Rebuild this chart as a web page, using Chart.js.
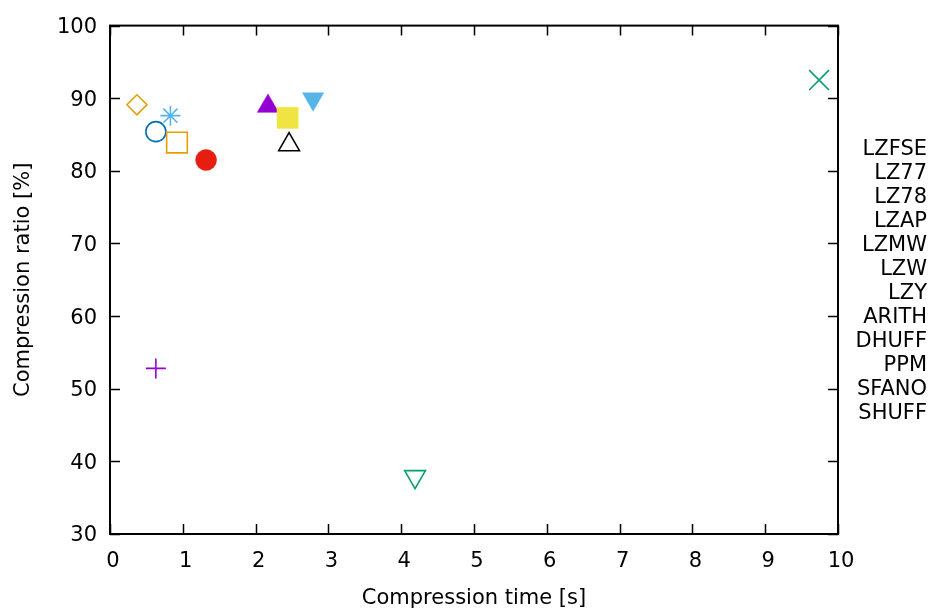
<!DOCTYPE html>
<html>
<head>
<meta charset="utf-8">
<script src="https://cdn.jsdelivr.net/npm/chart.js@4.4.1/dist/chart.umd.min.js"></script>
<style>
  html, body { margin: 0; padding: 0; background: #fff; }
  #wrap { width: 929px; height: 608px; }
</style>
</head>
<body>
<div id="wrap"><canvas id="chart" width="929" height="608"></canvas></div>
<script>
// data
const methods = ['LZFSE', 'LZ77', 'LZ78', 'LZAP', 'LZMW', 'LZW', 'LZY', 'ARITH', 'DHUFF', 'PPM', 'SFANO', 'SHUFF'];
const timeSec = [0.63, 9.74, 0.83, 0.92, 2.44, 0.63, 1.32, 2.46, 2.17, 4.19, 2.79, 0.37];
const ratioPct = [52.8, 92.5, 87.6, 83.9, 87.3, 85.4, 81.5, 83.6, 88.9, 37.9, 89.9, 89.1];
const xTicks = [0, 1, 2, 3, 4, 5, 6, 7, 8, 9, 10];
const yTicks = [30, 40, 50, 60, 70, 80, 90, 100];

// gnuplot-ish point types and colours
const colors = ['#9400d3', '#009e73', '#56b4e9', '#e69f00', '#f0e442', '#0072b2', '#e51e10', '#000000', '#9400d3', '#009e73', '#56b4e9', '#e69f00'];
const styles = ['cross', 'crossRot', 'star', 'rect', 'rect', 'circle', 'circle', 'triangle', 'triangle', 'triangle', 'triangle', 'rectRot'];
const filled = [false, false, false, false, true, false, true, false, true, false, true, false];
const radii = [10, 14, 10, 14.6, 15, 10, 10.5, 12, 12.3, 12, 12.3, 10];
const rotations = [0, 0, 0, 0, 0, 0, 0, 0, 0, 180, 180, 0];

const FONT = "'DejaVu Sans', sans-serif";

const datasets = methods.map((m, i) => ({
    label: m,
    data: [{ x: timeSec[i], y: ratioPct[i] }],
    pointStyle: styles[i],
    pointRadius: radii[i],
    pointHoverRadius: radii[i],
    pointRotation: rotations[i],
    borderColor: colors[i],
    backgroundColor: filled[i] ? colors[i] : 'rgba(0,0,0,0)',
    pointBorderWidth: filled[i] ? 0.5 : 1.6,
    showLine: false
}));

// frame + inward ticks on all four sides, like gnuplot
const framePlugin = {
    id: 'frame',
    afterDatasetsDraw(chart) {
        const { ctx, chartArea: a, scales } = chart;
        ctx.save();
        ctx.strokeStyle = '#000';
        ctx.lineWidth = 1.5;
        const len = 10;
        ctx.beginPath();
        scales.x.ticks.forEach(t => {
            const px = Math.round(scales.x.getPixelForValue(t.value)) + 0.5;
            ctx.moveTo(px, a.bottom); ctx.lineTo(px, a.bottom - len);
            ctx.moveTo(px, a.top); ctx.lineTo(px, a.top + len);
        });
        scales.y.ticks.forEach(t => {
            const py = Math.round(scales.y.getPixelForValue(t.value)) + 0.5;
            ctx.moveTo(a.left, py); ctx.lineTo(a.left + len, py);
            ctx.moveTo(a.right, py); ctx.lineTo(a.right - len, py);
        });
        ctx.stroke();
        ctx.lineWidth = 2;
        ctx.strokeRect(a.left, a.top, a.right - a.left, a.bottom - a.top);
        ctx.restore();
    }
};

// key: right-aligned labels outside the plot
const keyPlugin = {
    id: 'key',
    afterDraw(chart) {
        const { ctx } = chart;
        ctx.save();
        ctx.font = '21px ' + FONT;
        ctx.fillStyle = '#000';
        ctx.textAlign = 'right';
        ctx.textBaseline = 'middle';
        chart.data.datasets.forEach((ds, i) => {
            ctx.fillText(ds.label, 927, 150 + i * 24);
        });
        ctx.restore();
    }
};

new Chart(document.getElementById('chart'), {
    type: 'scatter',
    data: { datasets },
    plugins: [framePlugin, keyPlugin],
    options: {
        responsive: false,
        animation: false,
        events: [],
        layout: { padding: { top: 23, right: 91, left: 0, bottom: 0 } },
        plugins: {
            legend: { display: false },
            tooltip: { enabled: false }
        },
        scales: {
            x: {
                type: 'linear',
                min: 0, max: 10,
                afterBuildTicks: s => { s.ticks = xTicks.map(v => ({ value: v })); },
                afterFit: s => { s.height = 74; },
                grid: { display: false, drawTicks: false },
                border: { display: false },
                ticks: { color: '#000', font: { family: FONT, size: 21 }, padding: 15, maxRotation: 0, labelOffset: 3 },
                title: { display: true, text: 'Compression time [s]', color: '#000', font: { family: FONT, size: 21 }, padding: { top: 0, bottom: -3 } }
            },
            y: {
                type: 'linear',
                min: 30, max: 100,
                afterBuildTicks: s => { s.ticks = yTicks.map(v => ({ value: v })); },
                afterFit: s => { s.width = 110; },
                grid: { display: false, drawTicks: false },
                border: { display: false },
                ticks: { color: '#000', font: { family: FONT, size: 21 }, padding: 13, labelOffset: 2 },
                title: { display: true, text: 'Compression ratio [%]', color: '#000', font: { family: FONT, size: 21 }, padding: { top: 11, bottom: 0 } }
            }
        }
    }
});
</script>
</body>
</html>
